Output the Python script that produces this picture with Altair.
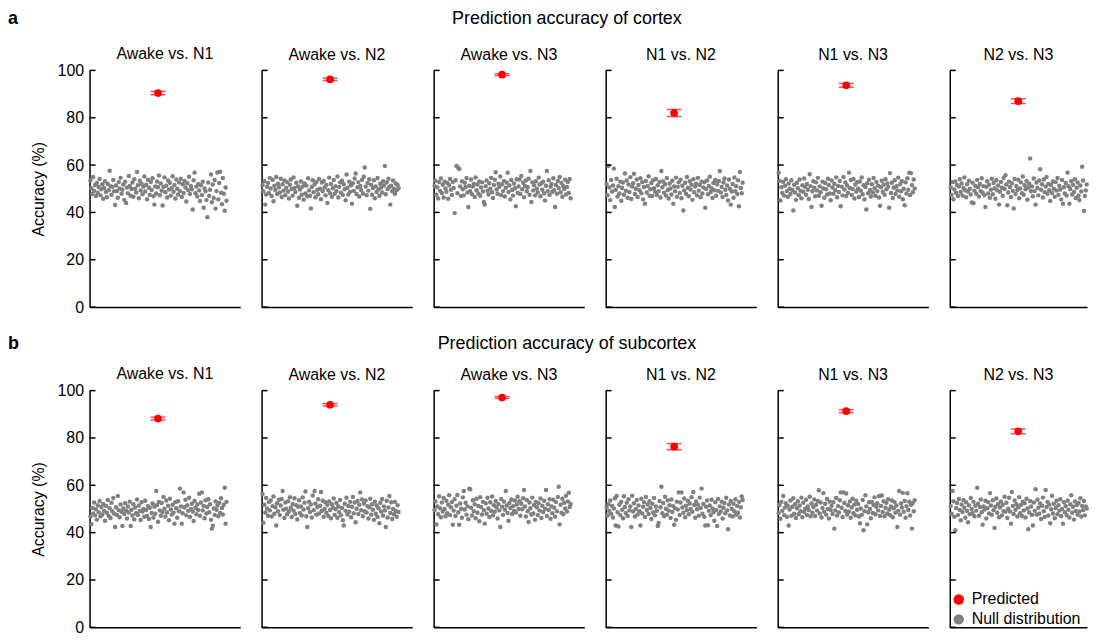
import altair as alt
import pandas as pd

FONT = "Liberation Sans, Arial, sans-serif"
RED = "#ff0000"
GRAY = "#808080"

N_PERM = 150
X_MAX = 165
Y_TICKS = [0, 20, 40, 60, 80, 100]

comparisons = ["Awake vs. N1", "Awake vs. N2", "Awake vs. N3", "N1 vs. N2", "N1 vs. N3", "N2 vs. N3"]
row_letters = ["a", "b"]
row_titles = ["Prediction accuracy of cortex", "Prediction accuracy of subcortex"]

pred_cortex = [90.4, 96.2, 98.2, 82.0, 93.7, 87.0]
err_cortex = [0.7, 0.5, 0.4, 1.5, 0.8, 1.0]
pred_subcortex = [88.2, 94.0, 97.1, 76.3, 91.3, 82.8]
err_subcortex = [0.6, 0.5, 0.4, 1.3, 0.6, 1.0]

null_cortex_awake_n1 = [
    53.5, 50.2, 47.8, 55.0, 49.1, 51.6, 46.9, 52.4, 48.3, 50.7,
    54.1, 47.2, 49.8, 51.9, 45.8, 50.3, 53.2, 48.6, 46.4, 52.0,
    49.4, 57.6, 51.1, 47.5, 50.8, 53.7, 48.9, 43.1, 51.4, 49.0,
    46.2, 52.8, 50.1, 54.6, 47.9, 49.6, 51.8, 45.3, 53.0, 44.0,
    50.5, 48.1, 55.4, 51.2, 47.0, 49.9, 52.6, 46.6, 54.0, 50.0,
    48.4, 57.1, 51.5, 46.0, 53.4, 49.3, 52.1, 47.7, 50.9, 55.2,
    48.8, 51.7, 45.6, 53.8, 50.4, 47.4, 52.9, 49.5, 54.4, 46.8,
    43.3, 51.0, 48.0, 53.1, 50.6, 55.6, 47.3, 52.2, 49.2, 42.9,
    50.8, 54.8, 48.5, 51.3, 46.3, 53.5, 49.7, 52.5, 47.1, 50.2,
    55.3, 48.7, 51.6, 45.9, 53.9, 50.0, 47.6, 52.7, 49.0, 54.2,
    46.5, 51.9, 48.2, 53.3, 50.5, 44.6, 52.3, 49.4, 55.1, 47.8,
    51.2, 49.8, 41.2, 53.6, 56.8, 48.1, 50.9, 46.7, 52.0, 49.3,
    44.8, 51.5, 47.4, 53.0, 42.0, 50.1, 48.9, 45.2, 38.0, 52.6,
    47.0, 49.6, 56.0, 44.3, 51.8, 46.1, 53.7, 41.6, 49.0, 56.9,
    45.5, 52.4, 57.2, 48.3, 43.5, 54.5, 47.9, 40.7, 50.5, 44.9,
]
null_cortex_awake_n2 = [
    51.5, 49.0, 53.2, 43.3, 47.6, 50.8, 52.4, 48.2, 54.6, 50.1,
    46.9, 53.8, 44.7, 51.3, 49.5, 55.0, 47.8, 52.1, 50.6, 48.4,
    54.2, 46.5, 51.9, 49.2, 53.5, 47.3, 50.4, 52.8, 48.8, 45.9,
    51.7, 53.9, 49.9, 47.1, 54.8, 50.3, 48.6, 52.5, 42.8, 51.0,
    46.2, 49.7, 53.1, 47.5, 50.9, 45.4, 52.2, 48.0, 51.4, 46.8,
    54.4, 49.3, 47.0, 41.7, 50.7, 53.6, 48.5, 51.8, 46.4, 52.9,
    49.6, 47.7, 54.1, 50.0, 45.6, 52.6, 48.9, 53.3, 50.5, 47.2,
    51.6, 44.0, 49.4, 54.7, 48.1, 52.0, 46.6, 50.2, 53.7, 47.9,
    51.1, 49.0, 55.2, 46.3, 50.8, 52.7, 48.3, 53.4, 47.4, 51.9,
    49.8, 45.1, 56.0, 50.4, 47.6, 53.0, 48.7, 51.5, 43.7, 52.3,
    49.1, 54.3, 56.4, 47.8, 50.6, 52.8, 46.7, 51.2, 49.5, 53.8,
    48.0, 55.1, 59.0, 50.9, 47.3, 52.4, 49.2, 54.0, 41.5, 51.7,
    47.5, 50.3, 53.6, 46.0, 51.0, 48.6, 54.5, 49.7, 47.0, 52.1,
    50.5, 48.4, 53.2, 51.4, 59.6, 47.7, 52.6, 49.9, 54.2, 50.8,
    43.3, 51.3, 48.9, 53.5, 50.0, 47.9, 52.2, 49.4, 51.6, 50.2,
]
null_cortex_awake_n3 = [
    51.2, 53.4, 47.5, 50.6, 45.9, 52.8, 49.1, 54.3, 48.2, 51.7,
    46.3, 53.0, 50.1, 48.7, 52.4, 45.8, 51.5, 54.1, 49.6, 47.4,
    52.9, 50.3, 39.7, 53.6, 59.6, 48.1, 58.9, 58.3, 51.0, 46.9,
    53.2, 49.8, 47.2, 52.5, 50.7, 54.5, 48.4, 42.3, 51.3, 49.0,
    53.9, 47.7, 50.9, 52.0, 46.5, 54.8, 49.4, 51.8, 48.0, 53.1,
    47.0, 50.5, 52.7, 48.8, 44.4, 43.3, 51.1, 53.5, 49.2, 47.6,
    52.3, 50.0, 54.6, 48.5, 46.1, 51.6, 53.8, 57.0, 49.7, 47.9,
    52.1, 50.8, 55.2, 47.3, 51.9, 49.0, 53.3, 46.7, 50.4, 52.6,
    56.8, 48.6, 51.4, 45.5, 53.7, 49.5, 47.1, 52.2, 50.2, 42.6,
    54.0, 48.3, 51.0, 53.9, 47.8, 55.4, 49.8, 52.5, 46.4, 51.2,
    53.5, 48.9, 50.6, 54.2, 47.5, 57.5, 44.4, 52.7, 49.3, 51.5,
    47.2, 53.2, 50.0, 48.4, 54.7, 51.8, 46.8, 52.3, 49.6, 53.0,
    48.1, 45.0, 51.3, 57.5, 49.0, 53.6, 47.4, 50.8, 52.0, 48.7,
    54.4, 49.4, 42.3, 51.6, 47.9, 53.3, 50.3, 55.0, 48.5, 52.4,
    46.6, 51.1, 49.9, 53.8, 47.6, 50.7, 52.9, 48.2, 54.1, 46.0,
]
null_cortex_n1_n2 = [
    52.0, 47.3, 59.6, 50.5, 45.2, 53.7, 48.8, 51.4, 58.5, 42.3,
    49.6, 54.2, 46.7, 51.1, 48.0, 53.0, 44.9, 50.3, 52.6, 47.5,
    56.4, 49.1, 53.5, 46.2, 51.8, 48.6, 54.9, 45.7, 50.9, 52.3,
    56.3, 47.8, 50.0, 53.9, 46.5, 51.6, 49.4, 54.4, 48.1, 52.8,
    45.5, 50.7, 43.7, 53.3, 48.4, 51.2, 55.3, 47.0, 49.8, 52.4,
    46.9, 53.6, 50.2, 48.7, 54.1, 47.4, 51.5, 49.0, 52.9, 46.3,
    57.5, 50.6, 53.1, 48.3, 51.9, 47.1, 54.5, 49.5, 45.9, 52.2,
    50.1, 47.6, 53.4, 43.7, 51.0, 48.9, 54.7, 46.6, 50.8, 52.7,
    48.2, 53.8, 46.0, 51.3, 40.8, 49.3, 52.5, 47.9, 55.0, 50.4,
    46.8, 53.2, 49.7, 51.7, 45.3, 54.0, 48.5, 50.9, 52.1, 47.2,
    54.6, 49.2, 51.6, 46.4, 53.0, 48.0, 50.5, 52.8, 42.0, 49.9,
    53.5, 47.7, 51.2, 55.1, 48.6, 50.2, 46.1, 52.4, 49.4, 53.7,
    47.0, 51.9, 49.1, 53.3, 57.5, 48.4, 50.7, 46.5, 52.6, 54.3,
    49.6, 47.4, 51.4, 45.0, 53.9, 50.0, 43.3, 48.8, 52.0, 46.2,
    54.8, 49.0, 51.1, 47.8, 53.6, 42.6, 57.1, 50.3, 48.1, 52.5,
]
null_cortex_n1_n3 = [
    56.8, 53.4, 45.0, 50.6, 48.2, 52.9, 47.1, 51.3, 54.0, 49.0,
    46.6, 52.2, 50.0, 47.8, 53.6, 49.5, 40.8, 51.7, 48.4, 45.3,
    52.5, 50.2, 47.3, 53.9, 49.1, 46.0, 51.5, 48.7, 54.3, 50.8,
    47.5, 52.0, 49.6, 45.7, 56.1, 51.1, 42.3, 48.9, 53.2, 50.4,
    46.8, 52.7, 49.3, 54.6, 47.0, 51.0, 48.5, 42.8, 53.0, 50.1,
    46.2, 52.4, 49.8, 47.6, 54.2, 51.6, 48.0, 45.1, 53.5, 50.5,
    47.9, 52.1, 49.4, 54.8, 46.4, 51.2, 48.6, 53.3, 42.6, 50.9,
    47.2, 55.0, 49.7, 52.6, 46.9, 51.4, 48.3, 56.8, 50.3, 53.7,
    47.4, 49.9, 54.1, 45.9, 51.8, 48.8, 52.8, 50.0, 46.5, 53.1,
    49.2, 54.8, 47.7, 51.5, 45.5, 50.7, 41.2, 52.3, 48.1, 53.8,
    49.5, 46.7, 51.9, 48.4, 54.5, 50.2, 47.0, 52.9, 49.0, 51.3,
    46.3, 42.8, 50.6, 53.4, 48.7, 51.7, 47.5, 54.0, 49.8, 52.2,
    50.8, 42.0, 56.6, 48.2, 52.5, 46.1, 50.4, 53.6, 47.8, 51.1,
    49.3, 54.7, 46.6, 51.9, 48.9, 53.2, 45.6, 50.0, 43.0, 52.7,
    48.0, 54.4, 49.6, 56.8, 47.3, 56.6, 51.6, 48.5, 53.9, 50.1,
]
null_cortex_n2_n3 = [
    50.5, 47.4, 52.8, 45.6, 49.7, 53.1, 48.2, 51.6, 46.9, 50.9,
    54.0, 48.6, 52.2, 47.1, 50.3, 54.8, 49.4, 46.4, 51.9, 48.8,
    53.4, 50.0, 47.6, 44.2, 52.5, 44.0, 49.2, 51.3, 47.9, 53.7,
    50.6, 46.7, 52.0, 49.0, 54.4, 48.3, 51.1, 47.3, 42.3, 50.8,
    53.2, 48.0, 51.7, 46.2, 49.6, 54.2, 47.7, 52.4, 50.2, 45.8,
    53.6, 49.3, 51.4, 43.3, 48.7, 52.9, 50.4, 47.0, 54.6, 49.9,
    55.7, 51.8, 43.0, 48.4, 53.0, 50.7, 46.5, 52.3, 49.1, 41.7,
    54.1, 47.8, 51.2, 49.5, 53.8, 46.0, 50.1, 52.7, 48.1, 55.2,
    47.5, 51.5, 49.8, 53.3, 45.4, 50.5, 52.1, 62.8, 48.9, 51.0,
    46.8, 54.3, 49.0, 43.3, 52.6, 50.3, 47.2, 53.5, 58.2, 49.6,
    51.9, 46.3, 53.9, 48.5, 50.9, 55.0, 47.9, 52.0, 49.4, 44.8,
    51.6, 48.2, 53.1, 50.0, 46.6, 52.8, 49.2, 54.5, 47.4, 51.3,
    49.7, 45.5, 53.7, 43.7, 50.6, 48.0, 52.4, 47.1, 56.8, 51.1,
    43.7, 49.9, 53.2, 47.6, 51.7, 48.6, 54.0, 46.1, 50.4, 52.6,
    47.0, 45.2, 51.4, 48.8, 59.3, 53.5, 40.6, 46.9, 49.3, 51.8,
]

null_subcortex_awake_n1 = [
    46.8, 43.6, 50.4, 48.1, 52.7, 47.3, 49.9, 45.5, 51.6, 48.6,
    53.4, 46.9, 50.8, 47.7, 52.1, 49.2, 45.0, 51.3, 48.4, 53.8,
    47.0, 50.3, 46.2, 52.6, 49.0, 54.6, 48.0, 42.4, 50.7, 47.5,
    55.5, 49.5, 46.5, 51.9, 48.8, 42.8, 50.2, 47.9, 52.4, 49.3,
    46.0, 51.0, 48.5, 53.1, 42.8, 49.7, 47.2, 52.0, 45.6, 50.6,
    48.2, 54.0, 47.4, 51.5, 49.1, 45.3, 52.8, 48.9, 50.0, 46.7,
    53.5, 49.6, 47.0, 51.2, 45.8, 50.5, 42.4, 48.3, 52.3, 46.4,
    50.9, 48.0, 57.6, 51.7, 44.6, 53.0, 49.4, 47.1, 52.5, 48.7,
    55.1, 50.1, 46.8, 53.6, 48.5, 51.4, 45.2, 54.3, 49.8, 47.6,
    51.8, 48.4, 43.8, 52.9, 50.3, 46.3, 53.3, 49.0, 58.6, 51.1,
    43.8, 48.2, 57.0, 50.7, 53.9, 47.3, 51.6, 49.2, 54.7, 46.6,
    50.0, 52.2, 48.9, 44.9, 53.4, 50.5, 47.8, 51.9, 49.6, 56.4,
    47.1, 52.7, 57.0, 49.4, 51.3, 46.1, 53.7, 48.1, 50.8, 54.1,
    48.6, 52.0, 45.4, 41.7, 42.9, 50.2, 47.5, 53.2, 49.7, 51.5,
    46.9, 52.6, 48.3, 54.5, 50.4, 47.7, 51.8, 59.0, 43.8, 53.0,
]
null_subcortex_awake_n2 = [
    56.3, 44.2, 51.8, 48.5, 54.6, 50.2, 47.1, 52.9, 49.4, 53.6,
    46.8, 51.2, 55.3, 48.0, 50.7, 43.0, 52.4, 49.0, 53.9, 47.4,
    51.5, 54.2, 57.6, 49.7, 46.2, 52.7, 50.1, 47.8, 53.3, 48.9,
    55.0, 50.5, 46.6, 52.1, 49.3, 54.5, 47.9, 51.6, 45.6, 50.9,
    53.7, 48.3, 51.1, 47.2, 54.9, 49.8, 52.6, 57.4, 46.9, 42.4,
    50.3, 53.1, 48.7, 51.9, 46.4, 55.7, 49.5, 57.6, 52.3, 47.6,
    50.8, 54.1, 48.1, 51.4, 57.2, 49.1, 53.5, 46.7, 50.0, 52.8,
    48.4, 51.7, 47.0, 53.2, 49.6, 46.1, 52.0, 50.6, 54.4, 47.5,
    49.9, 52.5, 46.3, 51.0, 48.6, 53.8, 47.3, 50.4, 45.2, 43.0,
    52.2, 49.2, 54.7, 47.7, 51.3, 48.8, 53.0, 46.5, 50.9, 55.1,
    48.2, 52.7, 44.4, 50.1, 53.4, 47.9, 51.8, 57.0, 49.5, 54.0,
    46.9, 52.3, 49.0, 53.6, 48.5, 51.2, 46.0, 50.7, 54.3, 47.6,
    52.0, 49.7, 45.4, 53.1, 48.0, 51.5, 46.6, 50.3, 44.0, 52.6,
    48.9, 54.2, 47.2, 51.1, 49.4, 42.4, 53.5, 46.4, 50.6, 55.5,
    48.3, 52.8, 45.8, 50.0, 47.8, 53.0, 49.1, 46.7, 51.6, 48.7,
]
null_subcortex_awake_n3 = [
    49.6, 53.2, 43.4, 51.0, 47.8, 55.4, 50.3, 46.5, 52.7, 48.9,
    54.6, 50.0, 46.9, 53.5, 48.2, 51.8, 55.8, 47.4, 50.7, 52.9,
    43.3, 49.3, 54.1, 47.0, 51.4, 55.9, 48.6, 43.3, 52.3, 50.1,
    46.3, 54.9, 57.6, 49.8, 52.6, 47.6, 51.1, 45.7, 58.6, 58.3,
    50.5, 47.2, 53.7, 49.0, 52.0, 46.1, 54.3, 48.4, 51.3, 44.8,
    55.0, 50.8, 47.7, 53.0, 49.5, 43.8, 52.4, 48.0, 54.7, 50.2,
    46.6, 52.8, 49.1, 55.3, 47.3, 51.6, 48.8, 53.4, 50.6, 46.0,
    52.1, 49.4, 42.4, 54.2, 50.9, 47.5, 53.1, 49.7, 57.6, 51.5,
    48.3, 45.0, 52.5, 50.4, 54.0, 47.9, 51.2, 49.2, 53.6, 48.5,
    51.9, 55.2, 50.0, 53.3, 47.1, 52.2, 49.9, 54.5, 58.0, 51.0,
    46.8, 53.8, 49.0, 44.5, 52.7, 50.3, 47.7, 54.8, 48.1, 51.7,
    45.4, 53.0, 50.7, 47.4, 52.4, 49.3, 54.4, 46.2, 51.4, 48.7,
    53.5, 50.1, 58.0, 47.0, 52.0, 49.6, 54.1, 45.9, 51.1, 48.2,
    53.9, 50.5, 46.7, 52.9, 49.0, 55.1, 59.4, 43.5, 51.8, 48.4,
    54.3, 47.8, 52.6, 50.2, 55.6, 48.9, 53.2, 56.9, 50.8, 52.1,
]
null_subcortex_n1_n2 = [
    50.5, 47.2, 52.0, 49.1, 53.6, 48.0, 51.3, 46.4, 50.2, 54.5,
    43.0, 55.5, 48.6, 42.6, 51.8, 47.4, 53.0, 49.7, 46.1, 55.4,
    50.8, 48.3, 52.6, 47.0, 54.1, 49.4, 51.1, 42.4, 55.6, 48.9,
    52.4, 46.8, 50.0, 53.8, 47.7, 51.5, 49.0, 43.0, 54.3, 48.1,
    50.9, 52.9, 46.6, 55.1, 49.6, 51.9, 47.9, 53.3, 50.4, 45.8,
    52.2, 48.5, 54.6, 47.3, 51.0, 49.2, 42.8, 44.1, 53.4, 50.7,
    59.4, 48.2, 52.5, 46.9, 55.2, 50.1, 47.6, 53.7, 49.3, 51.6,
    46.2, 54.0, 48.7, 51.2, 43.3, 50.3, 45.4, 53.1, 49.8, 57.0,
    47.5, 52.7, 57.0, 50.6, 48.4, 54.4, 46.5, 51.4, 49.5, 53.5,
    47.8, 52.3, 50.0, 55.0, 48.8, 57.2, 51.7, 46.3, 53.2, 49.9,
    51.8, 47.1, 54.8, 50.4, 58.6, 48.0, 52.1, 46.7, 43.0, 50.9,
    53.6, 43.1, 49.2, 51.5, 47.4, 53.9, 50.2, 48.6, 45.0, 52.8,
    49.6, 42.8, 54.2, 47.9, 51.1, 48.9, 53.1, 46.0, 50.5, 52.5,
    48.2, 54.7, 49.4, 41.4, 51.9, 47.2, 53.4, 50.1, 46.8, 52.2,
    49.0, 54.1, 47.6, 51.3, 48.4, 53.0, 46.4, 50.7, 55.3, 53.8,
]
null_subcortex_n1_n3 = [
    48.3, 51.7, 45.9, 53.0, 49.2, 55.5, 47.4, 50.6, 52.4, 46.7,
    51.3, 43.0, 49.8, 53.6, 47.1, 50.9, 54.5, 48.0, 52.0, 46.2,
    50.3, 53.3, 47.8, 51.5, 49.0, 54.8, 46.5, 52.6, 48.7, 50.1,
    53.9, 47.5, 51.0, 49.5, 55.2, 46.9, 52.3, 48.4, 50.8, 54.0,
    47.0, 51.8, 49.3, 53.4, 57.9, 48.1, 52.7, 46.4, 50.4, 56.7,
    48.8, 52.2, 47.6, 54.2, 50.0, 46.0, 53.1, 49.6, 51.4, 47.9,
    52.9, 41.7, 49.4, 54.6, 47.2, 51.2, 48.5, 53.7, 57.0, 50.5,
    46.6, 57.0, 52.5, 49.1, 56.5, 47.7, 51.6, 48.9, 53.2, 46.3,
    50.7, 54.3, 48.2, 51.9, 47.3, 53.5, 49.7, 52.1, 46.8, 44.0,
    50.2, 47.5, 53.8, 41.0, 49.0, 55.8, 51.1, 43.5, 48.6, 52.8,
    50.0, 46.1, 53.0, 48.3, 51.7, 54.9, 47.8, 50.9, 52.4, 49.4,
    55.5, 47.0, 51.3, 55.7, 48.7, 53.3, 46.9, 50.5, 52.6, 48.1,
    54.1, 49.8, 47.4, 51.0, 53.6, 46.5, 50.3, 52.9, 48.4, 51.5,
    42.4, 49.2, 57.6, 47.6, 52.3, 50.6, 56.8, 48.8, 53.4, 46.3,
    51.2, 56.6, 49.6, 53.1, 47.2, 51.8, 41.7, 52.5, 49.0, 53.7,
]
null_subcortex_n2_n3 = [
    51.2, 48.0, 57.6, 53.3, 46.7, 41.0, 50.4, 52.5, 47.4, 54.2,
    49.6, 45.2, 51.9, 48.7, 53.8, 50.5, 46.3, 52.8, 49.1, 44.4,
    51.6, 47.8, 54.6, 50.0, 48.3, 53.0, 46.9, 51.4, 49.3, 59.0,
    52.2, 47.1, 50.8, 54.0, 48.6, 43.3, 51.1, 49.8, 53.5, 46.0,
    50.3, 52.9, 48.1, 56.7, 51.5, 47.6, 53.7, 49.5, 42.0, 50.9,
    54.4, 48.4, 52.1, 46.5, 50.6, 53.2, 47.3, 51.8, 49.0, 55.2,
    48.8, 52.6, 46.2, 50.1, 54.7, 48.9, 43.8, 57.2, 51.3, 47.9,
    53.6, 49.7, 52.0, 46.8, 50.7, 55.0, 48.2, 51.7, 47.0, 53.1,
    49.4, 52.4, 46.4, 54.3, 50.2, 41.4, 48.5, 53.4, 51.0, 47.5,
    43.0, 52.7, 49.2, 58.3, 47.7, 53.9, 50.5, 48.0, 52.3, 45.8,
    51.4, 54.8, 49.0, 46.6, 58.0, 50.8, 53.0, 47.2, 51.9, 44.0,
    49.9, 55.6, 48.1, 52.2, 46.1, 50.4, 53.5, 47.8, 51.6, 49.3,
    54.1, 46.9, 50.0, 43.8, 52.8, 48.6, 51.2, 47.4, 53.6, 49.7,
    46.4, 52.0, 55.8, 48.4, 50.9, 45.5, 53.2, 49.1, 51.7, 47.6,
    52.5, 48.9, 54.5, 46.8, 51.3, 49.5, 53.4, 47.3, 51.0, 50.2,
]

NULLS = [
    [null_cortex_awake_n1, null_cortex_awake_n2, null_cortex_awake_n3,
     null_cortex_n1_n2, null_cortex_n1_n3, null_cortex_n2_n3],
    [null_subcortex_awake_n1, null_subcortex_awake_n2, null_subcortex_awake_n3,
     null_subcortex_n1_n2, null_subcortex_n1_n3, null_subcortex_n2_n3],
]
PREDS = [pred_cortex, pred_subcortex]
ERRS = [err_cortex, err_subcortex]

PANEL_W = 151.5
LAST_W = 138
PANEL_H = 238
TITLE_OFFSET = 7
FIRST_TITLE_OFFSET = 0.5

color_scale = alt.Scale(domain=["Predicted", "Null distribution"], range=[RED, GRAY])
y_scale = alt.Scale(domain=[0, 100], nice=False)


def make_panel(r, c):
    first = c == 0
    last = c == 5
    show_legend = (r == 1 and last)
    width = LAST_W if last else PANEL_W
    x_max = X_MAX * width / PANEL_W
    x_scale = alt.Scale(domain=[0, x_max], nice=False, zero=True)

    dnull = pd.DataFrame({
        "perm": list(range(1, N_PERM + 1)),
        "acc": NULLS[r][c],
        "series": ["Null distribution"] * N_PERM,
    })
    p, e = PREDS[r][c], ERRS[r][c]
    dpred = pd.DataFrame({
        "perm": [N_PERM / 2], "acc": [p], "lo": [p - e], "hi": [p + e],
        "series": ["Predicted"],
    })
    dticks = pd.DataFrame({"acc": Y_TICKS})

    xax = alt.Axis(labels=False, ticks=False, title=None, grid=False, domain=True)
    if first:
        yax = alt.Axis(values=Y_TICKS, labels=True, ticks=False, tickSize=0, grid=False,
                       domain=True, title="Accuracy (%)", labelPadding=6, titlePadding=11)
    else:
        yax = alt.Axis(values=Y_TICKS, labels=False, ticks=False, tickSize=0, grid=False,
                       domain=True, title=None)

    X = alt.X("perm:Q", scale=x_scale, axis=xax)
    Y = alt.Y("acc:Q", scale=y_scale, axis=yax)
    if show_legend:
        C = alt.Color("series:N", scale=color_scale, legend=alt.Legend(title=None))
    else:
        C = alt.Color("series:N", scale=color_scale, legend=None)

    dots = alt.Chart(dnull).mark_circle(size=20, opacity=1).encode(x=X, y=Y, color=C)
    ticks = alt.Chart(dticks).mark_rule(color="black", strokeWidth=1.5).encode(
        y=Y, x=alt.value(0), x2=alt.value(6))
    bar = alt.Chart(dpred).mark_rule(color=RED, strokeWidth=1.5).encode(
        x=X, y=alt.Y("lo:Q", scale=y_scale, axis=yax), y2="hi:Q")
    cap_lo = alt.Chart(dpred).mark_tick(orient="horizontal", color=RED, size=15, thickness=1.5).encode(
        x=X, y=alt.Y("lo:Q", scale=y_scale, axis=yax))
    cap_hi = alt.Chart(dpred).mark_tick(orient="horizontal", color=RED, size=15, thickness=1.5).encode(
        x=X, y=alt.Y("hi:Q", scale=y_scale, axis=yax))
    point = alt.Chart(dpred).mark_circle(size=60, opacity=1).encode(x=X, y=Y, color=C)

    return alt.layer(dots, ticks, bar, cap_lo, cap_hi, point).properties(
        width=width, height=PANEL_H,
        title=alt.TitleParams(text=comparisons[c], fontSize=16, font=FONT,
                              fontWeight="normal", color="black",
                              offset=FIRST_TITLE_OFFSET if first else TITLE_OFFSET),
    )


def make_header(r):
    dl = pd.DataFrame({"txt": [row_letters[r]]})
    dt = pd.DataFrame({"txt": [row_titles[r]]})
    letter = alt.Chart(dl).mark_text(font=FONT, fontSize=18, fontWeight="bold", align="left",
                                     baseline="middle", color="black").encode(
        text="txt:N", x=alt.value(-82), y=alt.value(9))
    title = alt.Chart(dt).mark_text(font=FONT, fontSize=18, align="center",
                                    baseline="middle", color="black").encode(
        text="txt:N", x=alt.value(480), y=alt.value(9))
    return alt.layer(letter, title).properties(width=900, height=18)


rows = [alt.hconcat(*[make_panel(r, c) for c in range(6)], spacing=19).resolve_scale(color="independent")
        for r in range(2)]
block_a = alt.vconcat(make_header(0), rows[0], spacing=18).resolve_scale(color="independent")
block_b = alt.vconcat(make_header(1), rows[1], spacing=13).resolve_scale(color="independent")

chart = alt.vconcat(block_a, block_b, spacing=20).resolve_scale(color="independent").properties(
    padding={"left": 0, "top": 0, "right": 0, "bottom": 0}
).configure_view(stroke=None).configure_axis(
    domainColor="black", domainWidth=1.5, labelFont=FONT, titleFont=FONT,
    labelFontSize=16, titleFontSize=16, labelColor="black", titleColor="black",
    titleFontWeight="normal",
).configure_legend(
    orient="none", legendX=1, legendY=202, labelFont=FONT, labelFontSize=16,
    labelColor="black", symbolSize=110, symbolType="circle", rowPadding=4,
    labelOffset=5, padding=0, symbolStrokeWidth=0,
)

chart.save("out.html", embed_options={"renderer": "svg", "actions": False})
